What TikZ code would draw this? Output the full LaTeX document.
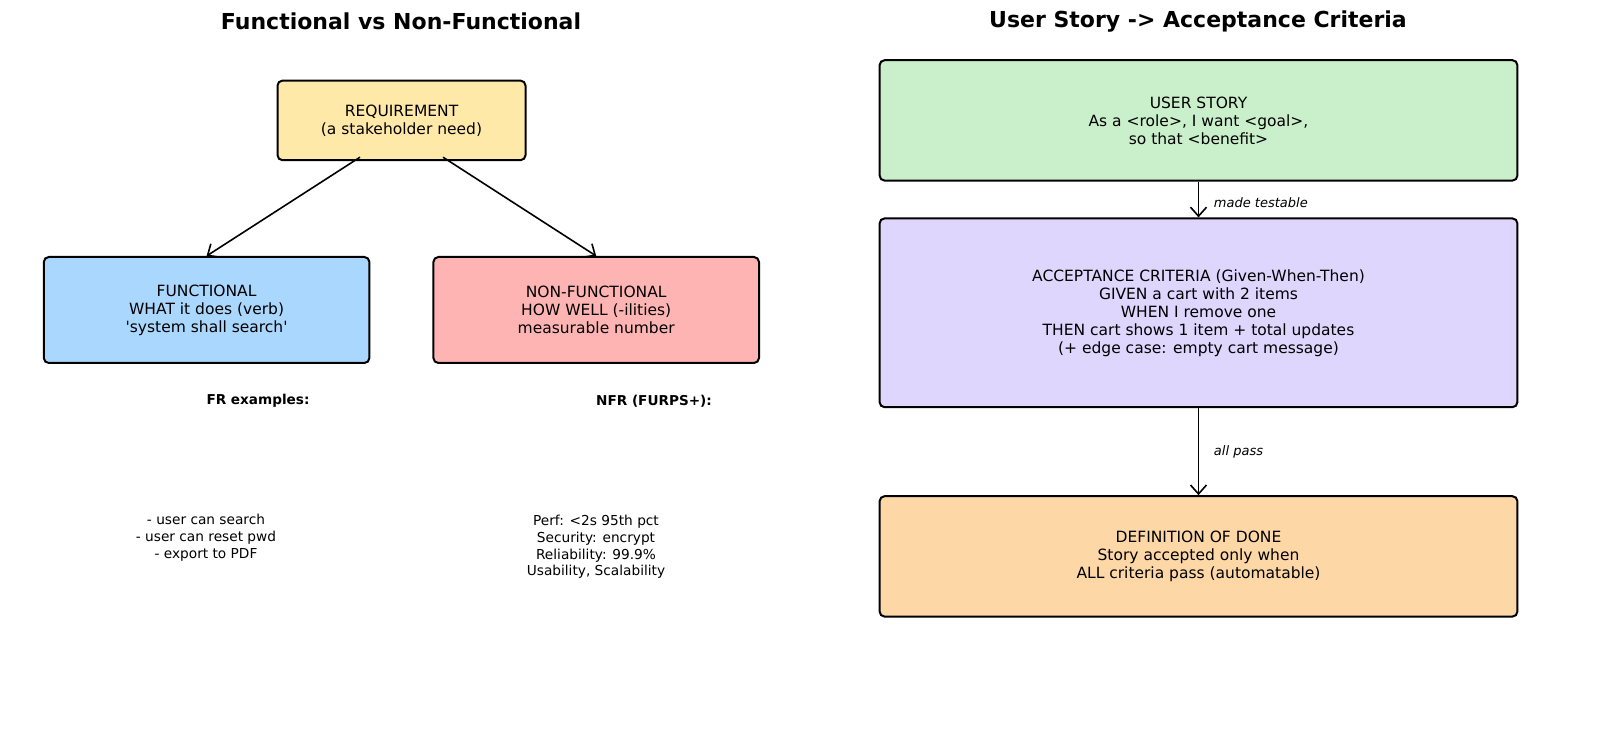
\documentclass[tikz,border=0pt]{standalone}
\usepackage{fontspec}
\setmainfont{DejaVu Sans}
\usetikzlibrary{arrows.meta, positioning, calc}
\definecolor{reqyellow}{HTML}{FFE9A8}
\definecolor{funcblue}{HTML}{A9D7FD}
\definecolor{nfrred}{HTML}{FFB4B4}
\definecolor{storygreen}{HTML}{C9F0CB}
\definecolor{acpurple}{HTML}{DED6FD}
\definecolor{dodorange}{HTML}{FDD7A6}
\tikzset{
  box/.style={draw, line width=1pt, rounded corners=2.5pt, fill=#1, align=center, inner sep=0pt,
    font=\fontsize{7.75}{9}\selectfont},
  arr/.style={-{Straight Barb[length=4.5pt, width=8pt]}, line width=0.8pt},
  ttl/.style={font=\fontsize{11}{13}\selectfont\bfseries},
  hdr/.style={font=\fontsize{6.8}{8.2}\selectfont\bfseries},
  lst/.style={align=center, font=\fontsize{6.85}{8.4}\selectfont},
  lbl/.style={anchor=west, font=\fontsize{6.5}{7.5}\selectfont\itshape},
}

\begin{document}
\begin{tikzpicture}[x=0.5pt, y=-0.5pt, node distance=17.9pt and 31pt]
    \useasboundingbox (0,0) rectangle (1600,731);
    \node[ttl] (ltitle) at (401,21.5) {Functional vs Non-Functional};
    \node[ttl] (rtitle) at (1198,21.5) {User Story -> Acceptance Criteria};
    % left: requirement split
    \node[box=reqyellow, minimum width=124pt, minimum height=39.8pt] (req) at (401.5,120.4)
      {REQUIREMENT\\(a stakeholder need)};
    \node[box=funcblue, minimum width=162.8pt, minimum height=53pt] (func) at (206.6,310)
      {FUNCTIONAL\\WHAT it does (verb)\\\textquotesingle system shall search\textquotesingle};
    \node[box=nfrred, minimum width=162.8pt, minimum height=53pt, right=of func] (nfr)
      {NON-FUNCTIONAL\\HOW WELL (-ilities)\\measurable number};
    \draw[arr] ([xshift=-20.75pt, yshift=2pt]req.south) -- (func.north);
    \draw[arr] ([xshift=20.75pt, yshift=2pt]req.south) -- (nfr.north);
    \node[hdr] (frhead) at (258,401) {FR examples:};
    \node[hdr] (nfrhead) at (654,401) {NFR (FURPS+):};
    \node[lst] (frlist) at (206,538) {- user can search\\- user can reset pwd\\- export to PDF};
    \node[lst] (nfrlist) at (596,547)
      {Perf: <2s 95th pct\\Security: encrypt\\Reliability: 99.9\%\\Usability, Scalability};
    % right: story flow
    \node[box=storygreen, minimum width=318.9pt, minimum height=60.2pt] (story) at (1198.5,120.4)
      {USER STORY\\As a <role>, I want <goal>,\\so that <benefit>};
    \node[box=acpurple, minimum width=318.9pt, minimum height=94.4pt, below=of story] (accept)
      {ACCEPTANCE CRITERIA (Given-When-Then)\\GIVEN a cart with 2 items\\WHEN I remove one\\
       THEN cart shows 1 item + total updates\\(+ edge case: empty cart message)};
    \node[box=dodorange, minimum width=318.9pt, minimum height=60.2pt, below=43.5pt of accept] (dod)
      {DEFINITION OF DONE\\Story accepted only when\\ALL criteria pass (automatable)};
    \draw[arr] (story) -- node[lbl, xshift=4pt, yshift=-1.5pt] {made testable} (accept);
    \draw[arr] (accept) -- node[lbl, xshift=4pt] {all pass} (dod);
  \end{tikzpicture}
\end{document}
